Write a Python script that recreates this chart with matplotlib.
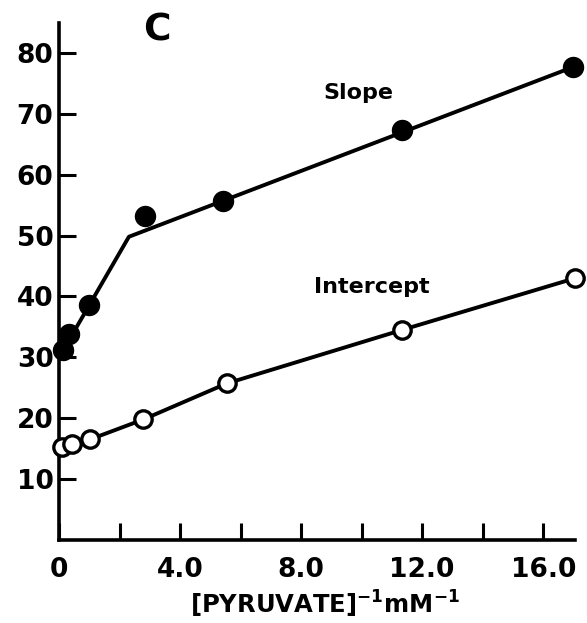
import numpy as np
from matplotlib import pyplot as plt

# valores (painel C)
slope_x = [0.13, 0.33, 1.0, 2.84, 5.42, 11.34, 17.0]
slope_y = [31.2, 33.8, 38.6, 53.2, 55.6, 67.3, 77.7]

# reta quebrada ajustada aos pontos "Slope"
slope_fit_x = [0.05, 2.31, 17.0]
slope_fit_y = [30.4, 49.8, 77.7]

icpt_x = [0.09, 0.42, 1.02, 2.79, 5.54, 11.34, 17.06]
icpt_y = [15.3, 15.8, 16.5, 19.8, 25.7, 34.5, 43.0]

x_ticks = [0, 2, 4, 6, 8, 10, 12, 14, 16]
x_labels = ['0', '', '4.0', '', '8.0', '', '12.0', '', '16.0']
y_ticks = [10, 20, 30, 40, 50, 60, 70, 80]
y_labels = ['10', '20', '30', '40', '50', '60', '70', '80']

plt.rcParams['font.family'] = 'DejaVu Sans'
plt.rcParams['font.weight'] = 'bold'
plt.rcParams['mathtext.default'] = 'bf'

fig = plt.figure(figsize=(5.87, 6.23), dpi=100)
ax = fig.add_axes([0.1005, 0.1333, 0.879, 0.8297])

ax.plot(slope_fit_x, slope_fit_y, color='black', lw=2.8, zorder=2)
ax.plot(slope_x, slope_y, 'o', color='black', ms=14.4, zorder=3, clip_on=False)

ax.plot(icpt_x, icpt_y, color='black', lw=2.8, zorder=2)
ax.plot(icpt_x, icpt_y, 'o', mfc='white', mec='black', mew=2.4, ms=12.5,
        zorder=3, clip_on=False)

ax.set_xlim(0, 17.05)
ax.set_ylim(0, 84.9)

ax.spines['top'].set_visible(False)
ax.spines['right'].set_visible(False)
ax.spines['left'].set_linewidth(2.6)
ax.spines['bottom'].set_linewidth(2.6)

ax.set_xticks(x_ticks)
ax.set_xticklabels(x_labels)
ax.set_yticks(y_ticks)
ax.set_yticklabels(y_labels)
ax.tick_params(axis='both', direction='in', length=12, width=2.2, labelsize=19)
ax.tick_params(axis='x', pad=12)
ax.tick_params(axis='y', pad=4)

ax.set_xlabel('[PYRUVATE]$^{-1}$mM$^{-1}$', fontsize=17.5, fontweight='bold', labelpad=5)
ax.xaxis.set_label_coords(0.515, -0.095)

ax.text(3.24, 83.6, 'C', fontsize=27, fontweight='bold', ha='center', va='center')
ax.text(9.88, 73.4, 'Slope', fontsize=16, fontweight='bold', ha='center', va='center')
ax.text(10.35, 41.6, 'Intercept', fontsize=16, fontweight='bold', ha='center', va='center')

plt.savefig('out.png', dpi=100)
